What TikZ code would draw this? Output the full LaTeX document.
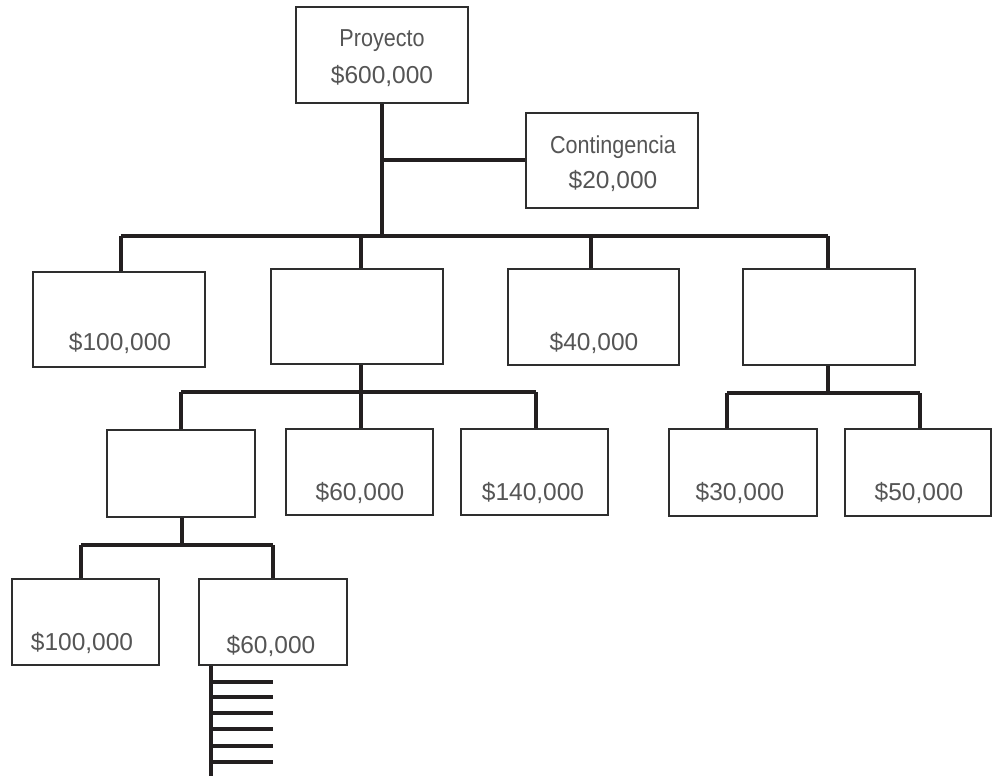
\documentclass[tikz,border=0pt]{standalone}
\usepackage{fontspec}
\setmainfont{Liberation Sans}
\newfontfamily\condfont[FakeStretch=0.88]{Liberation Sans}
\definecolor{txtgray}{HTML}{555555}
\definecolor{boxline}{HTML}{2E2E2E}
\definecolor{conline}{HTML}{231F20}
\begin{document}
\begin{tikzpicture}[x=1pt,y=-1pt,
  box/.style={draw=boxline,line width=1.6pt,fill=white},
  con/.style={draw=conline,line width=3.1pt},
  num/.style={inner sep=0pt,anchor=base,text=txtgray,font=\fontsize{24.5}{28}\selectfont},
  word/.style={inner sep=0pt,anchor=base,text=txtgray,font=\condfont\fontsize{24.5}{28}\selectfont}]
\useasboundingbox (0,0) rectangle (992,776);
\newcommand\bx[5]{\path[box] (#2,#3) rectangle (#4,#5) node[pos=0.5,inner sep=0pt] (#1) {};}
% connectors
\coordinate (jP) at (382,103);
\coordinate (jC) at (382,160);
\coordinate (jL1) at (382,236);
\coordinate (l1a) at (121,236);
\coordinate (l1b) at (361,236);
\coordinate (l1c) at (591,236);
\coordinate (l1d) at (828,236);
\draw[con] (jP) -- (jL1);
\draw[con] (jC) -- (526,160) coordinate (jCe);
\draw[con] (l1a) -- (l1d);
\draw[con] (l1a) -- (121,272) coordinate (a1t);
\draw[con] (l1b) -- (361,269) coordinate (a2t);
\draw[con] (l1c) -- (591,269) coordinate (a3t);
\draw[con] (l1d) -- (828,269) coordinate (a4t);
\coordinate (a2b) at (361,364);
\coordinate (l2a) at (181,392);
\coordinate (l2b) at (361,392);
\coordinate (l2c) at (536,392);
\draw[con] (a2b) -- (l2b);
\draw[con] (l2a) -- (l2c);
\draw[con] (l2a) -- (181,430) coordinate (b1t);
\draw[con] (l2b) -- (361,429) coordinate (b2t);
\draw[con] (l2c) -- (536,429) coordinate (b3t);
\coordinate (a4b) at (828,365);
\coordinate (l2d) at (727,393);
\coordinate (l2m) at (828,393);
\coordinate (l2e) at (920,393);
\draw[con] (a4b) -- (l2m);
\draw[con] (l2d) -- (l2e);
\draw[con] (l2d) -- (727,429) coordinate (b4t);
\draw[con] (l2e) -- (920,429) coordinate (b5t);
\coordinate (b1b) at (182,517);
\coordinate (l3a) at (81,545);
\coordinate (l3m) at (182,545);
\coordinate (l3b) at (273,545);
\draw[con] (b1b) -- (l3m);
\draw[con] (l3a) -- (l3b);
\draw[con] (l3a) -- (81,579) coordinate (d1t);
\draw[con] (l3b) -- (273,579) coordinate (d2t);
\coordinate (cTop) at (211,665);
\coordinate (cBot) at (211,776);
\draw[con] (cTop) -- (cBot);
\foreach \yy [count=\i] in {682,697,713,729,746,762}{
  \coordinate (t\i) at (211,\yy);
  \draw[con] (t\i) -- (273,\yy) coordinate (te\i);
}
% boxes
\bx{P}{296}{7}{468}{103}
\bx{C}{526}{113}{698}{208}
\bx{A1}{33}{272}{205}{367}
\bx{A2}{271}{269}{443}{364}
\bx{A3}{508}{269}{679}{365}
\bx{A4}{743}{269}{915}{365}
\bx{B1}{107}{430}{255}{517}
\bx{B2}{286}{429}{433}{515}
\bx{B3}{461}{429}{608}{515}
\bx{B4}{669}{429}{817}{516}
\bx{B5}{845}{429}{991}{516}
\bx{D1}{12}{579}{159}{665}
\bx{D2}{199}{579}{347}{665}
% texts
\node[word] (tP1) at (382,47) {Proyecto};
\node[num] (tP2) at (382,83) {\$600,000};
\node[word] (tC1) at (613,153) {Contingencia};
\node[num] (tC2) at (613,188) {\$20,000};
\node[num] (tA1) at (120,350) {\$100,000};
\node[num] (tA3) at (594,350) {\$40,000};
\node[num] (tB2) at (360,500) {\$60,000};
\node[num] (tB3) at (533,500) {\$140,000};
\node[num] (tB4) at (740,500) {\$30,000};
\node[num] (tB5) at (919,500) {\$50,000};
\node[num] (tD1) at (82,650) {\$100,000};
\node[num] (tD2) at (271,653) {\$60,000};
\end{tikzpicture}
\end{document}
